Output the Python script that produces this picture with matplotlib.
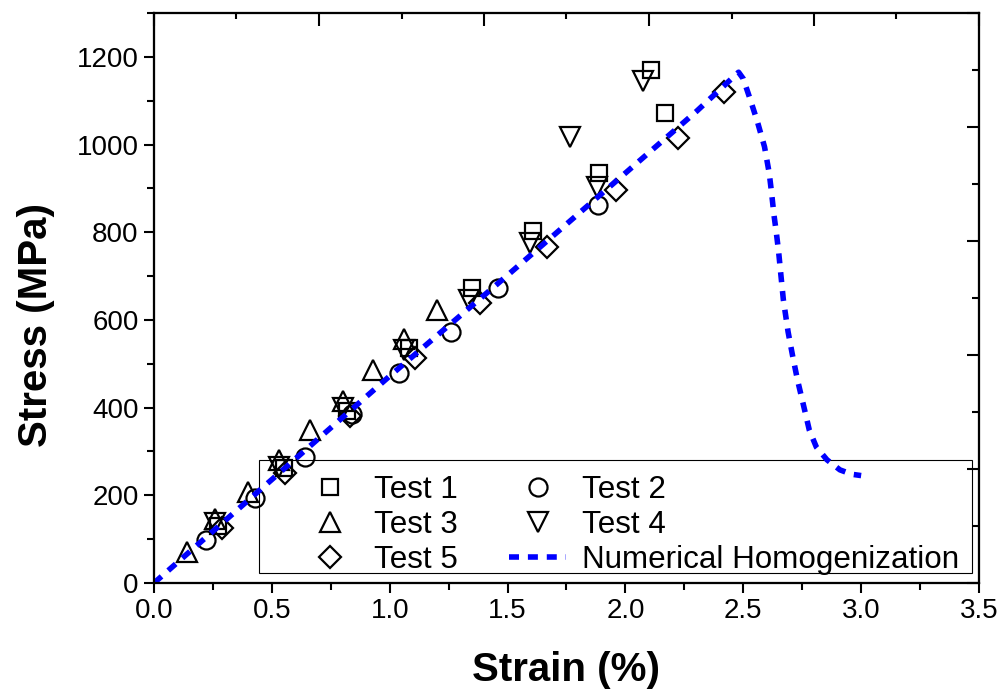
import numpy as np
import matplotlib
matplotlib.use("Agg")
import matplotlib.pyplot as plt
from matplotlib.ticker import MultipleLocator
from matplotlib.patches import Rectangle

plt.rcParams["font.family"] = ["Liberation Sans", "DejaVu Sans"]

# Experimental tensile tests (strain in %, stress in MPa)
test1_strain = [0.27, 0.55, 0.82, 1.08, 1.35, 1.61, 1.89, 2.11, 2.17]
test1_stress = [130, 262, 392, 535, 673, 803, 936, 1170, 1072]

test2_strain = [0.22, 0.43, 0.64, 0.84, 1.04, 1.26, 1.46, 1.885]
test2_stress = [97, 193, 288, 385, 480, 573, 672, 861]

test3_strain = [0.14, 0.26, 0.40, 0.53, 0.66, 0.80, 0.93, 1.06, 1.20]
test3_stress = [71, 145, 208, 281, 349, 414, 486, 556, 623]

test4_strain = [0.26, 0.53, 0.80, 1.06, 1.335, 1.595, 1.765, 1.878, 2.076]
test4_stress = [137, 265, 400, 532, 645, 776, 1017, 904, 1144]

test5_strain = [0.287, 0.556, 0.83, 1.107, 1.383, 1.666, 1.96, 2.225, 2.418]
test5_stress = [125, 250, 380, 513, 638, 767, 897, 1015, 1119]

# Numerical homogenization curve
num_strain = [0, 0.5, 1.0, 1.5, 2.0, 2.3, 2.44, 2.48, 2.50, 2.53, 2.56, 2.59,
              2.61, 2.62, 2.63, 2.64, 2.65, 2.66, 2.67, 2.69, 2.71, 2.73,
              2.76, 2.78, 2.81, 2.855, 2.91, 2.96, 3.0]
num_stress = [0, 236, 472, 702, 935, 1075, 1145, 1165, 1150, 1102, 1052, 995,
              935, 890, 840, 800, 755, 700, 646, 573, 516, 463,
              395, 349, 310, 281, 258, 248, 245]

fig = plt.figure(figsize=(10.03, 6.96), dpi=100)
ax = fig.add_axes([154 / 1003, 1 - 583 / 696, 825 / 1003, 570 / 696])

mk = dict(ls="none", mfc="none", mec="black", mew=1.6, zorder=3, clip_on=False)
h1, = ax.plot(test1_strain, test1_stress, marker="s", ms=11.5, **mk)
h2, = ax.plot(test2_strain, test2_stress, marker="o", ms=13, **mk)
h3, = ax.plot(test3_strain, test3_stress, marker="^", ms=14, **mk)
h4, = ax.plot(test4_strain, test4_stress, marker="v", ms=14, **mk)
h5, = ax.plot(test5_strain, test5_stress, marker="D", ms=11, **mk)
hn, = ax.plot(num_strain, num_stress, color="#0000ff", lw=4, dashes=(1.8, 1.6),
              dash_capstyle="butt", zorder=4)

ax.set_xlim(0, 3.5)
ax.set_ylim(0, 1300)
ax.set_xticks(np.arange(0, 3.51, 0.5))
ax.set_yticks(np.arange(0, 1201, 200))
ax.xaxis.set_minor_locator(MultipleLocator(0.25))
ax.yaxis.set_minor_locator(MultipleLocator(100))
ax.tick_params(which="major", direction="out", length=7, width=1.5,
               labelsize=20, pad=4)
ax.tick_params(which="minor", direction="out", length=5, width=1.5)
for sp in ax.spines.values():
    sp.set_linewidth(1.5)

# Unlabelled right and top axes with inward ticks
ax_r = ax.twinx()
ax_r.set_ylim(0, 1)
ax_r.set_yticks(np.linspace(0, 1, 6))
ax_r.set_yticks(np.linspace(0.1, 0.9, 5), minor=True)
ax_r.tick_params(axis="y", which="both", direction="in", width=1.5, labelright=False)
ax_r.tick_params(axis="y", which="major", length=9)
ax_r.tick_params(axis="y", which="minor", length=5)

ax_t = ax.twiny()
ax_t.set_xlim(0, 1)
ax_t.set_xticks(np.linspace(0, 1, 6))
ax_t.set_xticks(np.linspace(0.1, 0.9, 5), minor=True)
ax_t.tick_params(axis="x", which="both", direction="in", width=1.5, labeltop=False)
ax_t.tick_params(axis="x", which="major", length=9)
ax_t.tick_params(axis="x", which="minor", length=4)
for a in (ax_r, ax_t):
    for sp in a.spines.values():
        sp.set_linewidth(1.5)

ax.set_xlabel("Strain (%)", fontsize=29, fontweight="bold")
ax.set_ylabel("Stress (MPa)", fontsize=29, fontweight="bold")
ax.xaxis.set_label_coords(0.5, -0.12)
ax.yaxis.set_label_coords(-0.12, 0.452)

# Legend box
ax.add_patch(Rectangle((0.1273, 0.0175), 0.8642, 0.1982, transform=ax.transAxes,
                       fill=False, ec="black", lw=0.8, zorder=2))
ax_t.legend([h1, h3, h5, h2, h4, hn],
            ["Test 1", "Test 3", "Test 5", "Test 2", "Test 4",
             "Numerical Homogenization"],
            ncol=2, loc="upper left", bbox_to_anchor=(0.179, 0.19),
            bbox_transform=ax.transAxes, frameon=False, borderpad=0,
            borderaxespad=0, fontsize=22.6, handlelength=1.82, handletextpad=0.5,
            columnspacing=1.62, labelspacing=0.16)

fig.savefig("out.png", dpi=100)
